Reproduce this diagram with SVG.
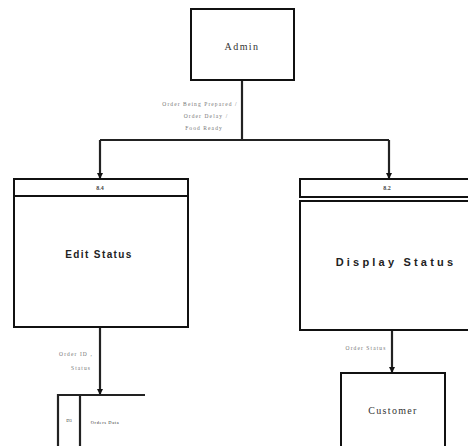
<svg xmlns="http://www.w3.org/2000/svg" width="468" height="446" viewBox="0 0 468 446">
<style>
.box{fill:#fff;stroke:#111;stroke-width:2}
.ln{fill:none;stroke:#222;stroke-width:2.2}
.t{font-family:"Liberation Serif",serif;fill:#333;text-anchor:middle}
.s{font-size:5.5px;fill:#777;letter-spacing:1.1px}
.b{font-family:"Liberation Sans",sans-serif;font-weight:bold;fill:#222;text-anchor:middle}
.n{font-size:6px;font-weight:bold;fill:#444}
</style>
<defs>
<marker id="ah" markerWidth="6" markerHeight="6" refX="5" refY="3" orient="auto" markerUnits="userSpaceOnUse" viewBox="0 0 6 6"><path d="M0,0 L6,3 L0,6 Z" fill="#111"/></marker>
</defs>
<rect width="468" height="446" fill="#fff"/>
<g id="connectors">
<path class="ln" d="M242,81 V140"/>
<path class="ln" d="M100,140 H389"/>
<path class="ln" d="M100,140 V178" marker-end="url(#ah)"/>
<path class="ln" d="M389,140 V178" marker-end="url(#ah)"/>
<path class="ln" d="M100,327 V394" marker-end="url(#ah)"/>
<path class="ln" d="M392,331 V372" marker-end="url(#ah)"/>
<text class="t s" x="200" y="106">Order Being Prepared /</text>
<text class="t s" x="206" y="118">Order Delay /</text>
<text class="t s" x="204" y="130">Food Ready</text>
<text class="t s" x="76" y="356">Order ID ,</text>
<text class="t s" x="81" y="370">Status</text>
<text class="t s" x="366" y="350">Order Status</text>
</g>
<g id="admin">
<rect class="box" x="191" y="9" width="103" height="71"/>
<text class="t" x="242" y="50" font-size="10" letter-spacing="1.4">Admin</text>
</g>
<g id="p84">
<rect class="box" x="14" y="179" width="174" height="148"/>
<line x1="14" y1="196" x2="188" y2="196" stroke="#111" stroke-width="2"/>
<text class="t n" x="100" y="190">8.4</text>
<text class="b" x="99" y="258" font-size="10" letter-spacing="1.4">Edit Status</text>
</g>
<g id="p82">
<rect class="box" x="300" y="179" width="170" height="18"/>
<rect class="box" x="300" y="201" width="170" height="129"/>
<text class="t n" x="387" y="190">8.2</text>
<text class="b" x="396" y="266" font-size="11" letter-spacing="3.2">Display Status</text>
</g>
<g id="datastore">
<path class="ln" d="M145,395 H58 V446 M80,395 V446"/>
<text class="t" x="69" y="422" font-size="4.5" fill="#666">D3</text>
<text class="t" x="105" y="424" font-size="4.5" fill="#666" letter-spacing="0.6">Orders Data</text>
</g>
<g id="customer">
<rect class="box" x="341" y="373" width="104" height="80"/>
<text class="t" x="393" y="414" font-size="10" letter-spacing="1.3">Customer</text>
</g>
</svg>
